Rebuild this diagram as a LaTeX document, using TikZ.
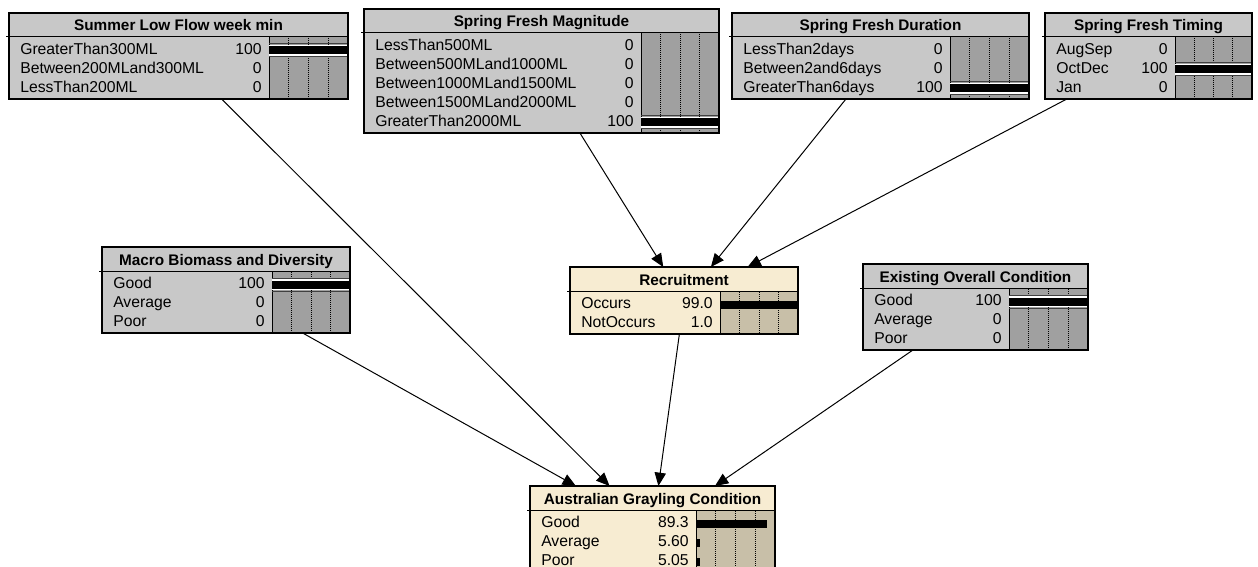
\documentclass[tikz,border=0pt]{standalone}
\usepackage{fontspec}
\setmainfont{Liberation Sans}
\usetikzlibrary{arrows.meta}
\definecolor{boxgrey}{RGB}{200,200,200}
\definecolor{bargrey}{RGB}{160,160,160}
\definecolor{boxtan}{RGB}{247,236,210}
\definecolor{bartan}{RGB}{200,191,168}
\tikzset{
  nbox/.style={draw=black, line width=1.1pt, inner sep=0pt, outer sep=0pt, rectangle},
  ttl/.style={font=\fontsize{11.5}{13}\selectfont\bfseries, inner sep=0pt, anchor=base},
  lbl/.style={font=\fontsize{11.8}{14}\selectfont, inner sep=0pt, anchor=base west},
  val/.style={font=\fontsize{11.8}{14}\selectfont, inner sep=0pt, anchor=base east},
  sepline/.style={line width=0.75pt},
  gridline/.style={line width=0.75pt, dash pattern=on 0.75pt off 0.75pt, black},
  evline/.style={line width=0.75pt, black!75},
  link/.style={line width=0.75pt, -{Triangle[length=10pt,width=8.5pt]}},
}
% #1 name #2 L #3 T #4 R #5 bar start #6 rows #7 box fill #8 bar fill
\newcommand\NBox[8]{%
  \pgfmathsetmacro\cB{#3+29+19*#6}%
  \pgfmathsetmacro\cW{(#4-#2)*0.75}%
  \pgfmathsetmacro\cH{(\cB-#3)*0.75}%
  \def\cL{#2}\def\cT{#3}\def\cR{#4}\def\cS{#5}%
  \node[nbox, fill=#7, anchor=north west, minimum width=\cW pt, minimum height=\cH pt] (#1) at (#2,#3) {};
  \fill[#8] (#5,#3+24) rectangle (#4,\cB);
  \foreach \k in {1,2,3} \draw[gridline] ({#5+\k*(#4-#5)/4},#3+25) -- ({#5+\k*(#4-#5)/4},\cB);
  \draw[sepline] (#5,#3+24) -- (#5,\cB);
}
% #1 name #2 title
\newcommand\NTitle[2]{%
  \node[ttl] (#1-t) at ({(\cL+\cR)/2},\cT+18) {#2};
  \draw[sepline] (\cL-3,\cT+24) -- (\cR,\cT+24);
}
% #1 name #2 index #3 label #4 value #5 percent
\newcommand\NRow[5]{%
  \pgfmathsetmacro\cc{\cT+37.5+19*(#2-1)}%
  \node[lbl] (#1-l#2) at (\cL+11,\cc+4) {#3};
  \node[val] (#1-v#2) at (\cS-7,\cc+4) {#4};
  \fill[black] (\cS,\cc-4) rectangle ({\cS+#5/100*(\cR-\cS)},\cc+4);
}
% evidence band for row #1
\newcommand\NEv[1]{%
  \pgfmathsetmacro\cc{\cT+37.5+19*(#1-1)}%
  \fill[white] (\cS,\cc-5.5) rectangle (\cR,\cc+5.5);
  \draw[evline] (\cS,\cc-6.5) -- (\cR,\cc-6.5);
  \draw[evline] (\cS,\cc+6.5) -- (\cR,\cc+6.5);
  \fill[black] (\cS,\cc-4) rectangle (\cR,\cc+4);
}
\newcommand\NClose[1]{%
  \draw[line width=1.1pt] (#1.north west) rectangle (#1.south east);
}
\begin{document}
\begin{tikzpicture}[x=0.75pt,y=-0.75pt]
\useasboundingbox (0,0) rectangle (1258,567);
\clip (0,0) rectangle (1258,567);
\fill[white] (0,0) rectangle (1258,567);

% Summer Low Flow week min
\NBox{sum}{9}{13}{348}{269}{3}{boxgrey}{bargrey}
\NTitle{sum}{Summer Low Flow week min}
\NEv{1}
\NRow{sum}{1}{GreaterThan300ML}{100}{100}
\NRow{sum}{2}{Between200MLand300ML}{0}{0}
\NRow{sum}{3}{LessThan200ML}{0}{0}
\NClose{sum}

% Spring Fresh Magnitude
\NBox{mag}{364}{9}{719}{641}{5}{boxgrey}{bargrey}
\NTitle{mag}{Spring Fresh Magnitude}
\NEv{5}
\NRow{mag}{1}{LessThan500ML}{0}{0}
\NRow{mag}{2}{Between500MLand1000ML}{0}{0}
\NRow{mag}{3}{Between1000MLand1500ML}{0}{0}
\NRow{mag}{4}{Between1500MLand2000ML}{0}{0}
\NRow{mag}{5}{GreaterThan2000ML}{100}{100}
\NClose{mag}

% Spring Fresh Duration
\NBox{dur}{732}{13}{1029}{950}{3}{boxgrey}{bargrey}
\NTitle{dur}{Spring Fresh Duration}
\NEv{3}
\NRow{dur}{1}{LessThan2days}{0}{0}
\NRow{dur}{2}{Between2and6days}{0}{0}
\NRow{dur}{3}{GreaterThan6days}{100}{100}
\NClose{dur}

% Spring Fresh Timing
\NBox{tim}{1045}{13}{1252}{1175}{3}{boxgrey}{bargrey}
\NTitle{tim}{Spring Fresh Timing}
\NEv{2}
\NRow{tim}{1}{AugSep}{0}{0}
\NRow{tim}{2}{OctDec}{100}{100}
\NRow{tim}{3}{Jan}{0}{0}
\NClose{tim}

% Macro Biomass and Diversity
\NBox{mac}{102}{247}{350}{272}{3}{boxgrey}{bargrey}
\NTitle{mac}{Macro Biomass and Diversity}
\NEv{1}
\NRow{mac}{1}{Good}{100}{100}
\NRow{mac}{2}{Average}{0}{0}
\NRow{mac}{3}{Poor}{0}{0}
\NClose{mac}

% Recruitment
\NBox{rec}{570}{267}{798}{720}{2}{boxtan}{bartan}
\NTitle{rec}{Recruitment}
\NRow{rec}{1}{Occurs}{99.0}{99}
\NRow{rec}{2}{NotOccurs}{1.0}{1}
\NClose{rec}

% Existing Overall Condition
\NBox{exi}{863}{264}{1088}{1009}{3}{boxgrey}{bargrey}
\NTitle{exi}{Existing Overall Condition}
\NEv{1}
\NRow{exi}{1}{Good}{100}{100}
\NRow{exi}{2}{Average}{0}{0}
\NRow{exi}{3}{Poor}{0}{0}
\NClose{exi}

% Australian Grayling Condition
\NBox{agc}{530}{486}{775}{696}{3}{boxtan}{bartan}
\NTitle{agc}{Australian Grayling Condition}
\NRow{agc}{1}{Good}{89.3}{89.3}
\NRow{agc}{2}{Average}{5.60}{5.6}
\NRow{agc}{3}{Poor}{5.05}{5.05}
\NClose{agc}

% links
\draw[link] (mag) -- (rec);
\draw[link] (dur) -- (rec);
\draw[link] (tim) -- (rec);
\draw[link] (sum) -- (agc);
\draw[link] (mac) -- (agc);
\draw[link] (rec) -- (agc);
\draw[link] (exi) -- (agc);
\end{tikzpicture}
\end{document}
